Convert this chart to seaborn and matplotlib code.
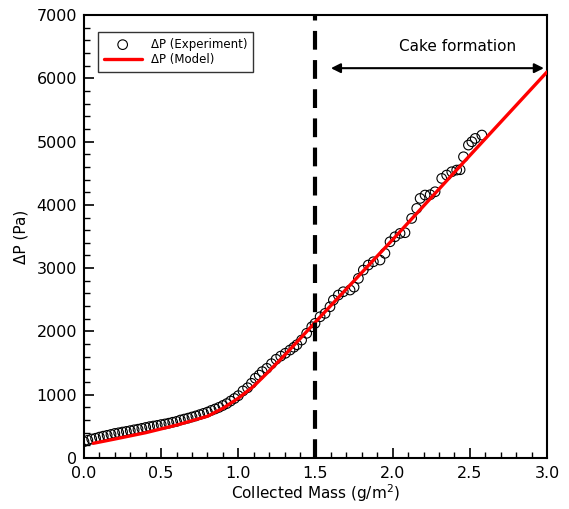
import matplotlib
matplotlib.use("Agg")

import numpy as np
import pandas as pd
import matplotlib.pyplot as plt
import seaborn as sns
from matplotlib.ticker import MultipleLocator

sns.set_style("white")
plt.rcParams["font.family"] = ["DejaVu Sans"]
plt.rcParams.update({"text.color": "black", "axes.labelcolor": "black",
                     "xtick.color": "black", "ytick.color": "black"})

exp_mass = [0.000, 0.025, 0.050, 0.075, 0.100, 0.125, 0.150, 0.175, 0.200, 0.225,
            0.250, 0.275, 0.300, 0.325, 0.350, 0.375, 0.400, 0.425, 0.450, 0.475,
            0.500, 0.525, 0.550, 0.575, 0.600, 0.625, 0.650, 0.675, 0.700, 0.725,
            0.750, 0.775, 0.800, 0.825, 0.850, 0.875, 0.900, 0.925, 0.950, 0.975,
            1.000, 1.030, 1.060, 1.085, 1.110, 1.135, 1.155, 1.185, 1.215, 1.245,
            1.275, 1.305, 1.335, 1.360, 1.380, 1.410, 1.443, 1.476, 1.497, 1.530,
            1.562, 1.594, 1.616, 1.648, 1.680, 1.724, 1.750, 1.778, 1.810, 1.842,
            1.875, 1.918, 1.950, 1.983, 2.015, 2.048, 2.080, 2.123, 2.156, 2.178,
            2.210, 2.243, 2.275, 2.318, 2.350, 2.383, 2.415, 2.437, 2.459, 2.491,
            2.513, 2.535, 2.578]
exp_dp = [258, 280, 300, 312, 330, 345, 358, 372, 388, 398,
          410, 420, 432, 445, 455, 468, 482, 495, 505, 515,
          528, 538, 550, 565, 578, 600, 615, 630, 648, 665,
          685, 705, 725, 752, 775, 800, 830, 860, 900, 940,
          985, 1060, 1110, 1180, 1260, 1310, 1365, 1417, 1490, 1560,
          1610, 1655, 1706, 1750, 1790, 1864, 1970, 2074, 2127, 2232,
          2285, 2390, 2496, 2575, 2627, 2654, 2700, 2838, 2970, 3049,
          3101, 3128, 3234, 3417, 3496, 3549, 3560, 3786, 3944, 4102,
          4155, 4160, 4207, 4418, 4471, 4523, 4550, 4555, 4760, 4945,
          4997, 5050, 5103]

# model curve
model_mass = [0.06, 0.2, 0.4, 0.6, 0.8, 0.9, 1.0, 1.1, 1.2, 1.3, 1.4, 1.5, 2.0, 2.5, 3.0]
model_dp = [232, 300, 400, 520, 660, 785, 945, 1135, 1375, 1625, 1885, 2150, 3450, 4780, 6100]

exp_df = pd.DataFrame({"mass": exp_mass, "dp": exp_dp})
model_df = pd.DataFrame({"mass": model_mass, "dp": model_dp})

fig = plt.figure(figsize=(5.69, 5.09), dpi=100)
ax = fig.add_axes([0.1476, 0.1002, 0.8137, 0.8703])

sns.scatterplot(data=exp_df, x="mass", y="dp", ax=ax, marker="o", s=48,
                facecolor="none", edgecolor="black", linewidth=0.8,
                label="\u0394P (Experiment)", zorder=2)
sns.lineplot(data=model_df, x="mass", y="dp", ax=ax, color="red", lw=2.4,
             label="\u0394P (Model)", zorder=3)

ax.axvline(1.5, color="black", lw=3, ls=(0, (4.5, 2.5)), zorder=4)
ax.annotate("", xy=(1.6, 6160), xytext=(2.98, 6160),
            arrowprops=dict(arrowstyle="<|-|>", color="black", lw=1.5,
                            mutation_scale=14, shrinkA=0, shrinkB=0))
ax.text(2.42, 6500, "Cake formation", ha="center", va="center", fontsize=11)

ax.set_xlim(0, 3.0)
ax.set_ylim(0, 7000)
ax.xaxis.set_major_locator(MultipleLocator(0.5))
ax.xaxis.set_minor_locator(MultipleLocator(0.1))
ax.yaxis.set_major_locator(MultipleLocator(1000))
ax.yaxis.set_minor_locator(MultipleLocator(200))
ax.xaxis.set_major_formatter(matplotlib.ticker.FormatStrFormatter("%.1f"))
ax.tick_params(which="major", direction="in", length=7, width=1.2, labelsize=11.5,
               top=False, right=False, bottom=True, left=True)
ax.tick_params(axis="x", which="major", pad=6)
ax.tick_params(axis="y", which="major", pad=5)
ax.tick_params(which="minor", direction="in", length=4, width=1.0,
               top=False, right=False, bottom=True, left=True)
for s in ax.spines.values():
    s.set_color("black")
    s.set_linewidth(1.5)

ax.set_xlabel("Collected Mass (g/m$^2$)", fontsize=11, labelpad=1)
ax.set_ylabel("\u0394P (Pa)", fontsize=11, labelpad=6)

leg = ax.legend(loc="upper left", bbox_to_anchor=(0.03, 0.962), fontsize=8.5,
                frameon=True, fancybox=False, edgecolor="black", borderaxespad=0,
                handlelength=3.2, borderpad=0.5, labelspacing=0.2)
leg.get_frame().set_linewidth(1.0)

plt.savefig("out.png", dpi=100)
plt.close()
